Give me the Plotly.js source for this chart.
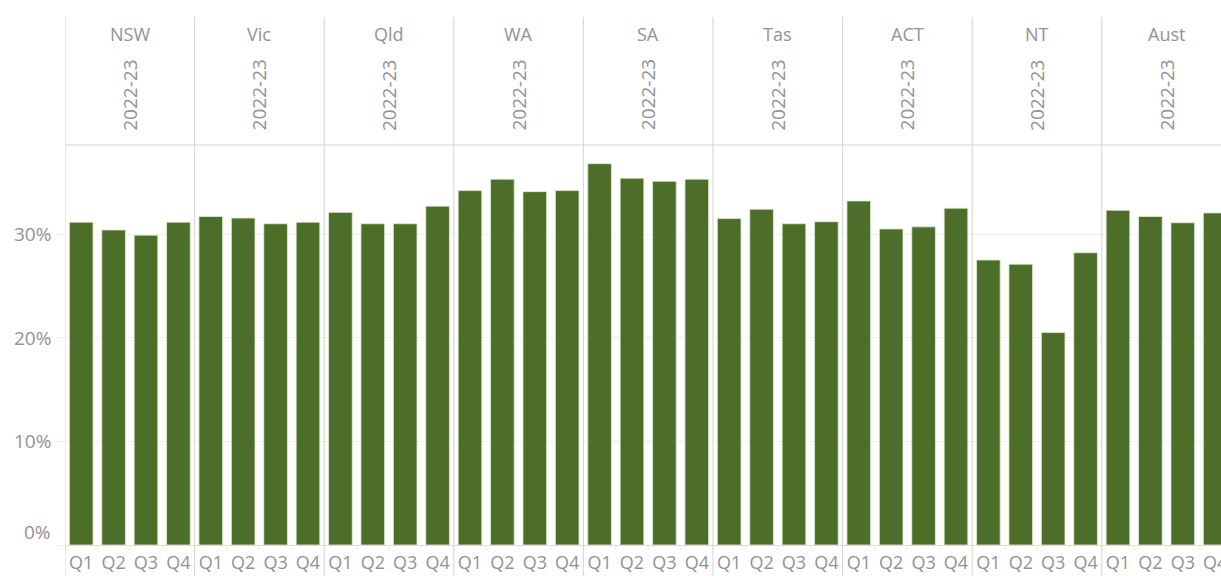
<!DOCTYPE html>
<html>
<head>
<meta charset="utf-8">
<script src="https://cdn.plot.ly/plotly-3.0.1.min.js"></script>
<style>
html,body{margin:0;padding:0;background:#fff;overflow:hidden;}
#chart{width:1221px;height:576px;}
</style>
</head>
<body>
<div id="chart"></div>
<script>
// ---- data ----
const states = ['NSW','Vic','Qld','WA','SA','Tas','ACT','NT','Aust'];
const quarters = ['Q1','Q2','Q3','Q4'];
const period = '2022-23';
const nsw  = [31.15, 30.4, 29.9, 31.15];
const vic  = [31.7, 31.55, 31.0, 31.15];
const qld  = [32.1, 31.0, 31.0, 32.7];
const wa   = [34.2, 35.3, 34.1, 34.2];
const sa   = [36.8, 35.4, 35.1, 35.3];
const tas  = [31.5, 32.4, 31.0, 31.2];
const act  = [33.2, 30.5, 30.7, 32.5];
const nt   = [27.5, 27.1, 20.5, 28.2];
const aust = [32.3, 31.7, 31.1, 32.05];
const seriesByState = [nsw, vic, qld, wa, sa, tas, act, nt, aust];
const yTicks = [0, 10, 20, 30];
const yTickLabels = ['0%', '10%', '20%', '30%'];

// ---- build ----
const nQ = quarters.length;
const xs = [], ys = [], tickvals = [], ticktext = [];
seriesByState.forEach((vals, p) => {
  vals.forEach((v, q) => {
    const x = p * nQ + q;
    xs.push(x); ys.push(v);
    tickvals.push(x); ticktext.push(quarters[q]);
  });
});

const grey = '#d3d3d3';
const textGrey = '#929292';
const fontFam = '"Open Sans", "DejaVu Sans", sans-serif';

const W = 1221, L = 65;
const H = 576, T = 145, B = 31;
const plotH = H - T - B;
const plotW = W - L;
const py = (pix) => (H - B - pix) / plotH; // pixel y -> paper y
const px = (pix) => (pix - L) / plotW;     // pixel x -> paper x

const shapes = [];
const annotations = [];
for (let p = 0; p <= states.length; p++) {
  shapes.push({
    type: 'line', xref: 'x', yref: 'paper',
    x0: p * nQ - 0.5, x1: p * nQ - 0.5,
    y0: py(576), y1: py(17),
    line: {color: grey, width: 1}
  });
}
shapes.push({
  type: 'line', xref: 'paper', yref: 'paper',
  x0: 0, x1: 1, y0: 1, y1: 1,
  line: {color: grey, width: 1.2}
});
states.forEach((s, p) => {
  const xc = p * nQ + (nQ - 1) / 2;
  annotations.push({
    text: s, xref: 'x', yref: 'paper', x: xc, y: py(34),
    showarrow: false, xanchor: 'center', yanchor: 'middle',
    font: {family: fontFam, size: 18, color: textGrey}
  });
  annotations.push({
    text: period, xref: 'x', yref: 'paper', x: xc, y: py(95),
    showarrow: false, textangle: -90, xanchor: 'center', yanchor: 'middle',
    font: {family: fontFam, size: 19, color: textGrey}
  });
});
// y tick labels (bottom label nudged up to sit inside the pane, as in the reference)
yTicks.forEach((v, i) => {
  annotations.push({
    text: yTickLabels[i], xref: 'paper', yref: 'y', x: px(53), y: v,
    showarrow: false, xanchor: 'right', yanchor: 'middle',
    yshift: v === 0 ? 13 : 0,
    font: {family: fontFam, size: 19, color: textGrey}
  });
});

const trace = {
  type: 'bar', x: xs, y: ys,
  marker: {color: '#4d6e29', line: {color: 'rgba(225,235,215,0.8)', width: 1}},
  hoverinfo: 'skip'
};

const layout = {
  width: W, height: H,
  margin: {l: L, r: 0, t: T, b: B, pad: 0},
  paper_bgcolor: '#fff', plot_bgcolor: '#fff',
  showlegend: false,
  bargap: 0.27,
  xaxis: {
    type: 'linear',
    range: [-0.5, 35.18],
    tickvals: tickvals, ticktext: ticktext,
    showgrid: false, zeroline: false, showline: false,
    ticks: '', ticklen: 0,
    ticklabelstandoff: 5,
    ticklabeloverflow: 'allow',
    minor: {ticks: 'outside', tick0: 0.5, dtick: 1, ticklen: 4, tickcolor: '#eeeeee', showgrid: false},
    tickfont: {family: fontFam, size: 18, color: textGrey},
    fixedrange: true
  },
  yaxis: {
    range: [0, 38.6],
    tickvals: yTicks, ticktext: ['', '', '', ''],
    showgrid: true, gridcolor: '#f0f0f0', gridwidth: 1,
    zeroline: true, zerolinecolor: '#dcdcdc', zerolinewidth: 1,
    showline: false,
    ticks: 'outside', ticklen: 8, tickcolor: '#ececec',
    fixedrange: true
  },
  shapes: shapes,
  annotations: annotations
};

Plotly.newPlot('chart', [trace], layout, {displayModeBar: false, staticPlot: true});
</script>
</body>
</html>
